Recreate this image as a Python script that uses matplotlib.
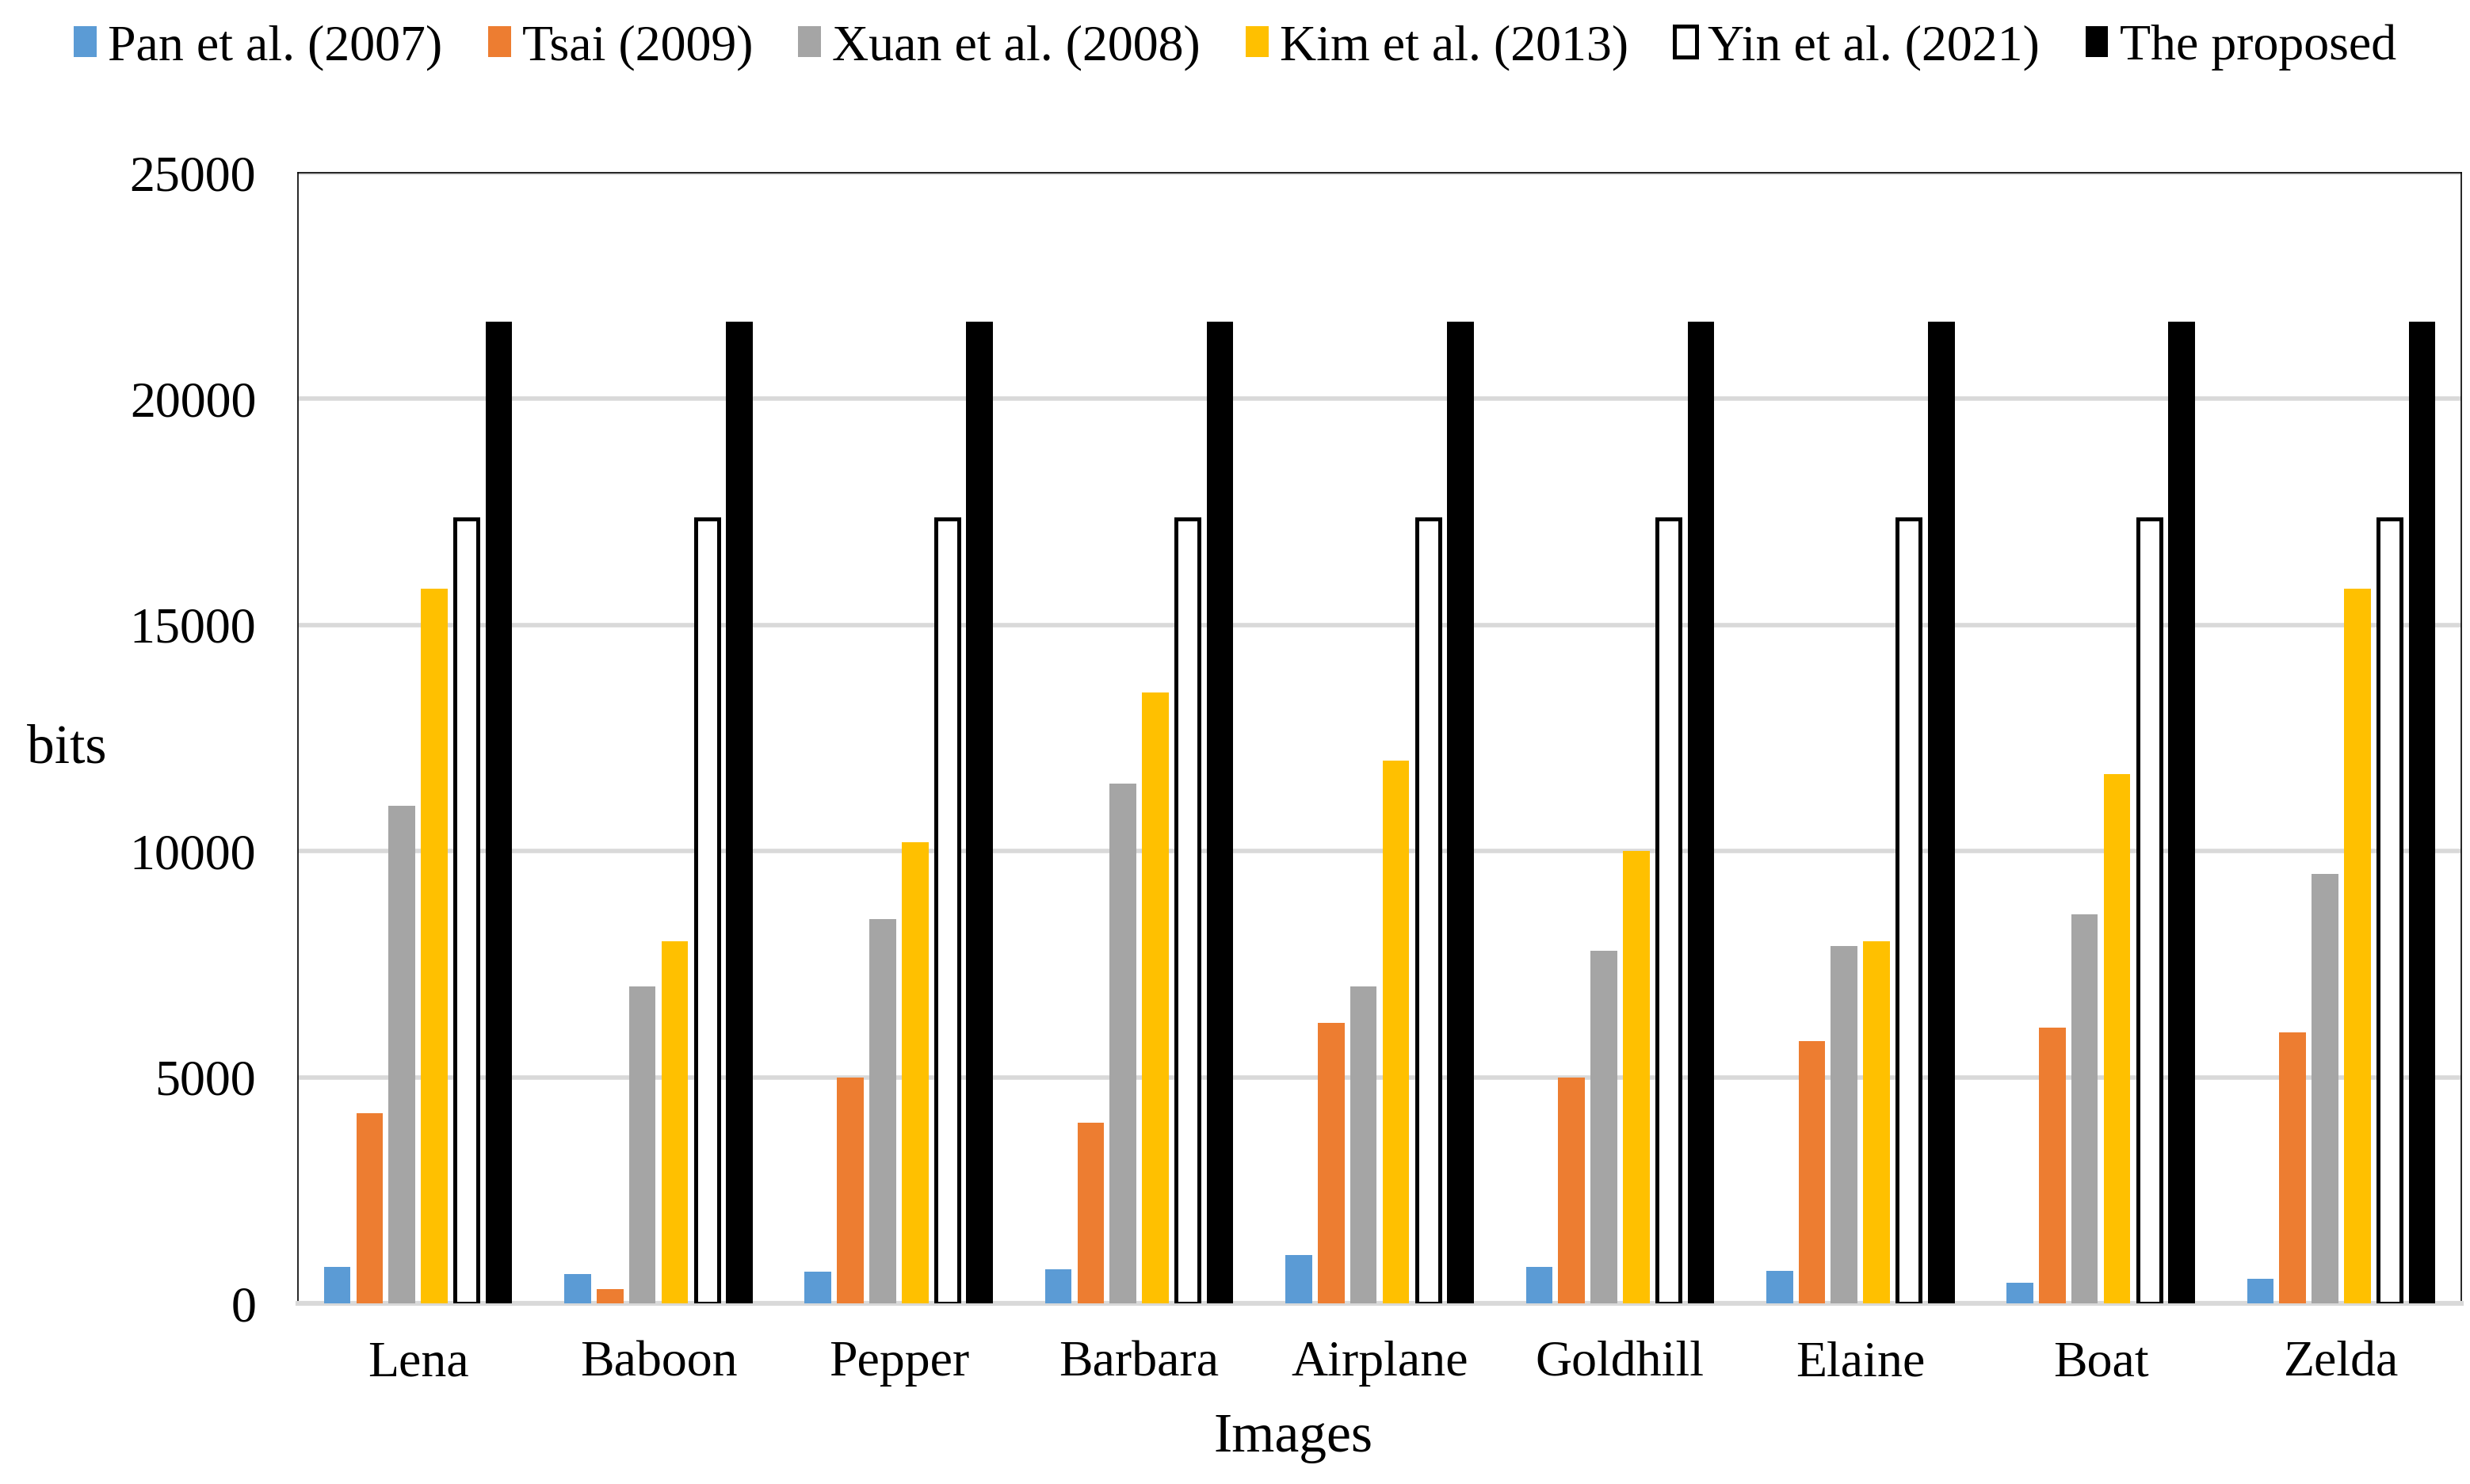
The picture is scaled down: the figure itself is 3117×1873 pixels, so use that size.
import matplotlib
matplotlib.use('Agg')
import matplotlib.pyplot as plt
import numpy as np

plt.rcParams['font.family'] = ['Liberation Serif', 'DejaVu Serif']

imagenes = ['Lena', 'Baboon', 'Pepper', 'Barbara', 'Airplane', 'Goldhill', 'Elaine', 'Boat', 'Zelda']

# bits embebidos por metodo
pan = [815, 655, 708, 761, 1063, 815, 726, 460, 549]
tsai = [4200, 320, 5000, 4000, 6200, 5000, 5800, 6100, 6000]
xuan = [11000, 7000, 8500, 11500, 7000, 7800, 7900, 8600, 9500]
kim = [15800, 8000, 10200, 13500, 12000, 10000, 8000, 11700, 15800]
yin = [17350, 17350, 17350, 17350, 17350, 17350, 17350, 17350, 17350]
propuesto = [21700, 21700, 21700, 21700, 21700, 21700, 21700, 21700, 21700]

etiquetas = ['Pan et al. (2007)', 'Tsai (2009)', 'Xuan et al. (2008)', 'Kim et al. (2013)',
             'Yin et al. (2021)', 'The proposed']

fig = plt.figure(figsize=(15.585, 9.365), dpi=200)
ax = fig.add_axes([0.1206, 0.1217, 0.8759, 0.7619])

x = np.arange(len(imagenes))
paso = 0.1345
ancho = 0.111
series = [pan, tsai, xuan, kim, yin, propuesto]
colores = ['#5B9BD5', '#ED7D31', '#A5A5A5', '#FFC000', 'white', 'black']

for i, (vals, col, lab) in enumerate(zip(series, colores, etiquetas)):
    pos = x + (i - 2.5) * paso
    if lab.startswith('Yin'):
        ax.bar(pos, vals, ancho - 0.016, color='white', edgecolor='black',
               linewidth=1.8, label=lab, zorder=3)
    else:
        ax.bar(pos, vals, ancho, color=col, label=lab, zorder=3)

ax.set_xlim(-0.5, len(imagenes) - 0.5)
ax.set_ylim(0, 25000)
ax.set_yticks(range(0, 25001, 5000))
ax.set_xticks(x)
ax.set_xticklabels(imagenes)
ax.tick_params(axis='both', length=0, labelsize=23)
ax.tick_params(axis='y', pad=19)
ax.tick_params(axis='x', pad=17)

ax.yaxis.grid(True, color='#D9D9D9', linewidth=2.0, zorder=0)
ax.set_axisbelow(True)

for lado in ['left', 'top', 'right']:
    ax.spines[lado].set_color('black')
    ax.spines[lado].set_linewidth(0.6)
ax.spines['bottom'].set_color('#D9D9D9')
ax.spines['bottom'].set_linewidth(2.2)

ax.set_ylabel('bits', fontsize=25, rotation=0, va='center', ha='center')
ax.yaxis.set_label_coords(-0.107, 0.49)
ax.set_xlabel('Images', fontsize=25, va='center')
ax.xaxis.set_label_coords(0.46, -0.119)

fig.legend(loc='center', bbox_to_anchor=(0.5, 0.968), ncol=6, frameon=False,
           fontsize=23, handlelength=0.45, handleheight=0.55, handletextpad=0.22,
           columnspacing=0.9)

fig.savefig('out.png', dpi=200)
